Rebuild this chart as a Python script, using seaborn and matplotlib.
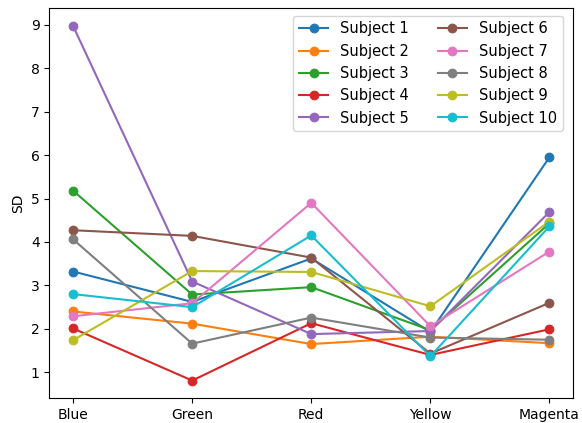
import matplotlib
matplotlib.use("Agg")
import matplotlib.pyplot as plt
import seaborn as sns
import pandas as pd

colors_cat = ["Blue", "Green", "Red", "Yellow", "Magenta"]
subjects = [f"Subject {i}" for i in range(1, 11)]

s1 = [3.32, 2.62, 3.62, 1.93, 5.95]
s2 = [2.40, 2.12, 1.65, 1.82, 1.67]
s3 = [5.18, 2.79, 2.96, 1.97, 4.43]
s4 = [2.01, 0.81, 2.13, 1.40, 1.99]
s5 = [8.97, 3.09, 1.88, 1.95, 4.69]
s6 = [4.27, 4.14, 3.64, 1.43, 2.60]
s7 = [2.29, 2.59, 4.90, 2.06, 3.78]
s8 = [4.06, 1.66, 2.26, 1.80, 1.75]
s9 = [1.74, 3.33, 3.31, 2.52, 4.47]
s10 = [2.80, 2.50, 4.15, 1.37, 4.36]
series = [s1, s2, s3, s4, s5, s6, s7, s8, s9, s10]

palette = sns.color_palette("tab10", 10)

fig = plt.figure(figsize=(5.82, 4.23), dpi=100)
ax = fig.add_axes([0.0847, 0.0584, 0.9003, 0.922])

for name, vals, col in zip(subjects, series, palette):
    df = pd.DataFrame({"Color": colors_cat, "SD": vals})
    sns.lineplot(data=df, x="Color", y="SD", ax=ax, color=col, marker="o",
                 markersize=6.3, linewidth=1.5, label=name, sort=False,
                 markeredgecolor=col, legend=False)

ax.set_xlabel("")
ax.set_ylabel("SD")
ax.set_yticks(range(1, 10))
ax.legend(ncol=2, loc="upper right", bbox_to_anchor=(0.9937, 1.0), fontsize=10.5)
fig.savefig("out.png", dpi=100)
